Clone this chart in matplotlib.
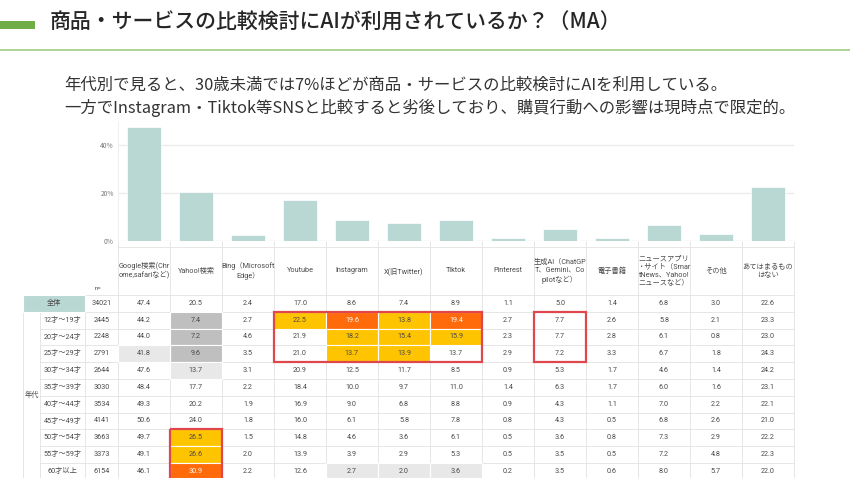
import matplotlib
matplotlib.use('Agg')
import matplotlib.pyplot as plt
from matplotlib.patches import Rectangle
import numpy as np

plt.rcParams['font.family'] = ['Noto Sans CJK JP', 'DejaVu Sans']

# ---- data ----
title = '商品・サービスの比較検討にAIが利用されているか？（MA）'
lead1 = '年代別で見ると、30歳未満では7%ほどが商品・サービスの比較検討にAIを利用している。'
lead2 = '一方でInstagram・Tiktok等SNSと比較すると劣後しており、購買行動への影響は現時点で限定的。'

columns = ['Google検索(Chr\nome,safariなど)', 'Yahoo!検索', 'Bing（Microsoft\nEdge）',
           'Youtube', 'Instagram', 'X(旧Twitter)', 'Tiktok', 'Pinterest',
           '生成AI（ChatGP\nT、Gemini、Co\npilotなど）', '電子書籍',
           'ニュースアプリ\n・サイト（Smar\ntNews、Yahoo!\nニュースなど）',
           'その他', 'あてはまるもの\nはない']

total_label = '全体'
total_n = 34021
total_vals = [47.4, 20.5, 2.4, 17.0, 8.6, 7.4, 8.9, 1.1, 5.0, 1.4, 6.8, 3.0, 22.6]

group_label = '年代'
ages = ['12才～19才', '20才～24才', '25才～29才', '30才～34才', '35才～39才',
        '40才～44才', '45才～49才', '50才～54才', '55才～59才', '60才以上']
age_n = [2445, 2248, 2791, 2644, 3030, 3534, 4141, 3663, 3373, 6154]
age_vals = [
    [44.2, 7.4, 2.7, 22.5, 19.6, 13.8, 19.4, 2.7, 7.7, 2.6, 5.8, 2.1, 23.3],
    [44.0, 7.2, 4.6, 21.9, 18.2, 15.4, 15.9, 2.3, 7.7, 2.8, 6.1, 0.8, 23.0],
    [41.8, 9.6, 3.5, 21.0, 13.7, 13.9, 13.7, 2.9, 7.2, 3.3, 6.7, 1.8, 24.3],
    [47.6, 13.7, 3.1, 20.9, 12.5, 11.7, 8.5, 0.9, 5.3, 1.7, 4.6, 1.4, 24.2],
    [48.4, 17.7, 2.2, 18.4, 10.0, 9.7, 11.0, 1.4, 6.3, 1.7, 6.0, 1.6, 23.1],
    [49.3, 20.2, 1.9, 16.9, 9.0, 6.8, 8.8, 0.9, 4.3, 1.1, 7.0, 2.2, 22.1],
    [50.6, 24.0, 1.8, 16.0, 6.1, 5.8, 7.8, 0.8, 4.3, 0.5, 6.8, 2.6, 21.0],
    [49.7, 26.5, 1.5, 14.8, 4.6, 3.6, 6.1, 0.5, 3.6, 0.8, 7.3, 2.9, 22.2],
    [49.1, 26.6, 2.0, 13.9, 3.9, 2.9, 5.3, 0.5, 3.5, 0.5, 7.2, 4.8, 22.3],
    [46.1, 30.9, 2.2, 12.6, 2.7, 2.0, 3.6, 0.2, 3.5, 0.6, 8.0, 5.7, 22.0],
]

# ---- styles ----
TEAL = '#b9d7d3'
GOLD = '#ffc400'
ORANGE = '#ff6a0a'
DGRAY = '#bfbfbf'
LGRAY = '#e8e8e8'
GRID = '#e2e2e2'
RED = '#e0474c'
TXT = '#4a4a4a'

# (age row, column) -> fill
fills = {
    (0, 1): DGRAY, (1, 1): DGRAY, (2, 1): DGRAY, (2, 0): LGRAY, (3, 1): LGRAY,
    (0, 3): GOLD, (0, 4): ORANGE, (0, 5): GOLD, (0, 6): ORANGE,
    (1, 4): GOLD, (1, 5): GOLD, (1, 6): GOLD,
    (2, 4): GOLD, (2, 5): GOLD,
    (7, 1): GOLD, (8, 1): GOLD, (9, 1): ORANGE,
    (9, 4): LGRAY, (9, 5): LGRAY, (9, 6): LGRAY,
}
# (first row, last row, first col, last col)
boxes = [(0, 2, 3, 6), (0, 2, 8, 8), (7, 9, 1, 1)]

W, H = 850, 478
fig = plt.figure(figsize=(W / 100, H / 100), dpi=100)
ov = fig.add_axes([0, 0, 1, 1])
ov.set_xlim(0, W)
ov.set_ylim(H, 0)
ov.axis('off')

# header
ov.add_patch(Rectangle((0, 21), 35, 8, color='#70ad47', lw=0))
ov.plot([0, W], [50, 50], color='#a9d18e', lw=1.3)
ov.text(50, 23, title, fontsize=15, fontweight='medium', color='#262626', va='center', ha='left')
ov.text(64, 85, lead1, fontsize=11.8, color='#333333', va='center', ha='left')
ov.text(64, 108, lead2, fontsize=11.8, color='#333333', va='center', ha='left')

# table geometry
x0, cw = 118, 52
g0, a0, n0 = 23, 40, 85
ht, hb = 247, 295
rh = 16.8
ncol = len(columns)
x_end = x0 + cw * ncol
nrows = 1 + len(ages)
y_end = hb + rh * nrows

tfont = dict(fontsize=5.2, color=TXT, ha='center', va='center',
             family=['Roboto', 'Noto Sans CJK JP'])

# fills
ov.add_patch(Rectangle((g0, hb), n0 - g0, rh, facecolor=TEAL, edgecolor='white', lw=0.8))
for (r, c), col in fills.items():
    ov.add_patch(Rectangle((x0 + c * cw, hb + rh * (r + 1)), cw, rh,
                           facecolor=col, edgecolor='white', lw=0.8, zorder=1))

# grid lines
for j in range(ncol + 1):
    ov.plot([x0 + j * cw] * 2, [ht, y_end], color=GRID, lw=0.6, zorder=0.5)
for xv in (g0, a0, n0):
    ov.plot([xv] * 2, [hb if xv != a0 else hb + rh, y_end], color=GRID, lw=0.6, zorder=0.5)
ov.plot([x0, x_end], [ht, ht], color=GRID, lw=0.6, zorder=0.5)
ov.plot([g0, x_end], [hb, hb], color=GRID, lw=0.6, zorder=0.5)
for i in range(1, nrows + 1):
    xs = g0 if i in (1, nrows) else a0
    ov.plot([xs, x_end], [hb + rh * i] * 2, color=GRID, lw=0.6, zorder=0.5)

# header labels
for j, name in enumerate(columns):
    ov.text(x0 + (j + 0.5) * cw, (ht + hb) / 2, name, linespacing=1.25, **tfont)
ov.text((n0 + x0) / 2 - 3, hb - 6, 'n=', **dict(tfont, fontsize=4.5))

# body
def row_text(i, label, n, vals):
    yc = hb + rh * (i + 0.5)
    ov.text((a0 + n0) / 2 if i else (g0 + n0) / 2, yc, label, **tfont)
    ov.text((n0 + x0) / 2, yc, str(n), **tfont)
    for j, v in enumerate(vals):
        c = 'white' if fills.get((i - 1, j)) == ORANGE else TXT
        ov.text(x0 + (j + 0.5) * cw, yc, f'{v:.1f}', **dict(tfont, color=c), zorder=3)

row_text(0, total_label, total_n, total_vals)
for i, (lab, n, vals) in enumerate(zip(ages, age_n, age_vals)):
    row_text(i + 1, lab, n, vals)
ov.text((g0 + a0) / 2, hb + rh * (1 + len(ages) / 2), group_label, **tfont)

for r1, r2, c1, c2 in boxes:
    ov.add_patch(Rectangle((x0 + c1 * cw, hb + rh * (r1 + 1)), cw * (c2 - c1 + 1),
                           rh * (r2 - r1 + 1), fill=False, edgecolor=RED, lw=1.6, zorder=4))

# bar chart
ax = fig.add_axes([x0 / W, (H - 241) / H, (x_end - x0) / W, 120 / H])
xs = np.arange(ncol)
ax.bar(xs, total_vals, width=0.66, color=TEAL, edgecolor='white', lw=0.5, zorder=2)
ax.set_xlim(-0.5, ncol - 0.5)
ax.set_ylim(0, 50)
ax.set_yticks([0, 20, 40])
ax.set_yticklabels(['0%', '20%', '40%'])
ax.tick_params(axis='y', length=0, labelsize=4.8, labelcolor='#777777', pad=3)
ax.set_xticks(np.arange(ncol + 1) - 0.5)
ax.set_xticklabels([])
ax.tick_params(axis='x', length=4, color=GRID, width=0.6)
ax.grid(axis='y', color='#ececec', lw=1.0, zorder=0)
for s in ('top', 'right', 'bottom'):
    ax.spines[s].set_visible(False)
ax.spines['left'].set_color('#f0f0f0')
ax.patch.set_alpha(0)

fig.savefig('out.png', dpi=100)
